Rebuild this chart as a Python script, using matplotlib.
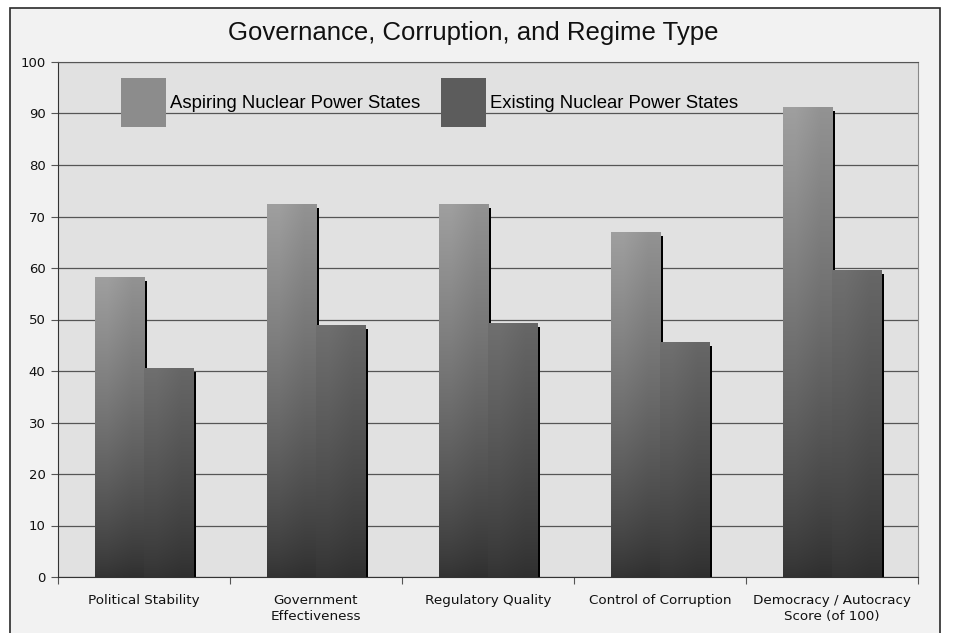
import numpy as np
import matplotlib
matplotlib.use("Agg")
import matplotlib.pyplot as plt
from matplotlib.patches import Rectangle

categories = ["Political Stability", "Government\nEffectiveness", "Regulatory Quality",
              "Control of Corruption", "Democracy / Autocracy\nScore (of 100)"]
aspiring = [58.3, 72.5, 72.5, 67.0, 91.3]
existing = [40.6, 49.0, 49.4, 45.6, 59.6]
series_names = ["Aspiring Nuclear Power States", "Existing Nuclear Power States"]
yticks = list(range(0, 101, 10))

W, H = 956, 633
fig = plt.figure(figsize=(W / 100, H / 100), dpi=100, facecolor="white")
# outer frame
fig.patches.append(Rectangle((10 / W, -0.02), (940 - 10) / W, 1 - 8 / H + 0.02,
                             transform=fig.transFigure, facecolor="#f2f2f2",
                             edgecolor="#2a2a2a", linewidth=1.2, zorder=-10))

ax = fig.add_axes([58 / W, (633 - 577) / H, (918 - 58) / W, (577 - 62) / H])
ax.set_zorder(5)
ax.set_facecolor("#e1e1e1")

bw = 0.285
x = np.arange(len(categories))
tops = [(0.60, 0.60, 0.60), (0.42, 0.42, 0.42)]
bottom_col = np.array([0.19, 0.19, 0.19])


def grad_bar(xc, h, top_col):
    x0 = xc - bw / 2
    # shadow on the right side
    ax.bar(x0 + bw + 0.008, h - 0.8, width=0.016, bottom=0, color="black", zorder=2)
    r = ax.bar(xc, h, width=bw, color=top_col, zorder=3, linewidth=0)[0]
    n = 256
    t = np.linspace(0, 1, n)[:, None]  # 0 at bottom (origin lower)
    tc = np.array(top_col)
    cols = bottom_col + (tc - bottom_col) * (t ** 0.8)
    img = np.repeat(cols[:, None, :], 2, axis=1)
    hs = np.array([1.04, 0.96])[None, :, None]
    img = np.clip(img * hs, 0, 1)
    im = ax.imshow(img, extent=[x0, x0 + bw, 0, h], origin="lower", aspect="auto",
                   interpolation="bilinear", zorder=3)
    im.set_clip_path(r)


for i in range(len(categories)):
    grad_bar(x[i] - bw / 2, aspiring[i], tops[0])
    grad_bar(x[i] + bw / 2, existing[i], tops[1])

ax.set_xlim(-0.5, len(categories) - 0.5)
ax.set_ylim(0, 100)
ax.set_yticks(yticks)
ax.yaxis.grid(True, color="#555555", linewidth=0.9)
ax.set_axisbelow(True)
ax.set_xticks(np.arange(len(categories) + 1) - 0.5)
ax.set_xticklabels([])
ax.set_xticks(x, minor=True)
ax.set_xticklabels(categories, minor=True)
ax.tick_params(axis="x", which="minor", length=0, pad=12, labelsize=9.7)
ax.tick_params(axis="x", which="major", length=5, color="#555555", direction="out")
ax.tick_params(axis="y", length=5, color="#555555", labelsize=9.5, pad=4)
for lbl in ax.get_xticklabels(minor=True):
    lbl.set_linespacing(1.35)
for lbl in ax.get_xticklabels(minor=True) + ax.get_yticklabels():
    lbl.set_family("DejaVu Sans")
    lbl.set_color("#111111")
for s in ["left", "bottom"]:
    ax.spines[s].set_color("#333333")
ax.spines["top"].set_color("#555555")
ax.spines["right"].set_color("#888888")

handles = [Rectangle((0, 0), 1, 1, facecolor="#8c8c8c", edgecolor="none"),
           Rectangle((0, 0), 1, 1, facecolor="#5c5c5c", edgecolor="none")]
leg = ax.legend(handles, series_names, loc="upper left", bbox_to_anchor=(0.073, 1 - 16 / 515),
                ncol=2, frameon=False, borderpad=0, borderaxespad=0,
                handlelength=2.45, handleheight=3.7, handletextpad=0.2, columnspacing=1.12,
                prop={"family": "Liberation Sans", "size": 13.3})

fig.text(473 / W, 1 - 33 / H, "Governance, Corruption, and Regime Type",
         ha="center", va="center", fontsize=18.5, family="Liberation Sans", color="#111111")

fig.savefig("out.png", dpi=100, facecolor=fig.get_facecolor())
